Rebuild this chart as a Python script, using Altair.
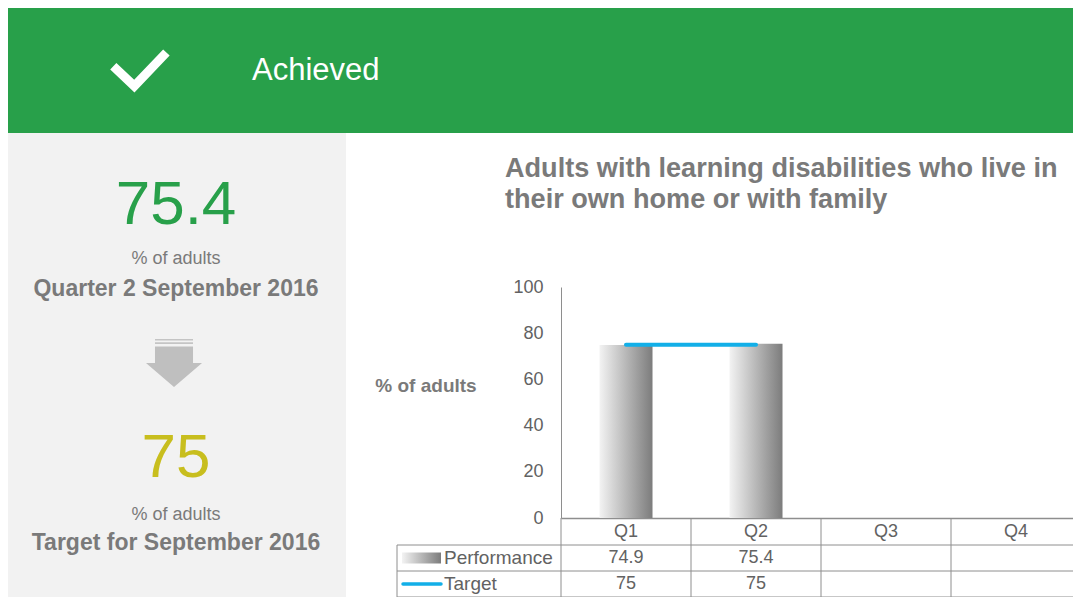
import altair as alt
import pandas as pd

# ---------------- data ----------------
quarters = ["Q1", "Q2", "Q3", "Q4"]
performance = [74.9, 75.4, None, None]
target = [75, 75, None, None]
y_ticks = [0, 20, 40, 60, 80, 100]

status_text = "Achieved"
headline_value = "75.4"
target_value = "75"
unit_label = "% of adults"
current_period = "Quarter 2 September 2016"
target_period = "Target for September 2016"
title_lines = ["Adults with learning disabilities who live in",
               "their own home or with family"]
row_labels = ["Performance", "Target"]

# ---------------- styles / layout ----------------
FONT = "Liberation Sans"
GREEN = "#28a04a"
YELLOW = "#c8be1e"
PANEL = "#f2f2f2"
GREY_TXT = "#7a7a7a"
AXIS_TXT = "#626262"
LINE_GREY = "#8e8e8e"
BLUE = "#12afe8"

OX, OY = 561, 287          # page position of plot-area origin
RIGHT, BOTTOM = 1073, 597  # page limits of the drawing
W = RIGHT - OX             # visible plot width
BAND_RANGE = 520           # 4 columns of 130 px
H = 231                    # plot height (0 at y=518)

ROW_LINES = [518, 545, 571, 597]   # table horizontal lines (page y)


def px(x):
    return x - OX


def py(y):
    return y - OY


def mid(a, b):
    return (a + b) / 2


bar_gradient = alt.Gradient(
    gradient="linear",
    stops=[alt.GradientStop(color="#f3f3f3", offset=0),
           alt.GradientStop(color="#7c7c7c", offset=1)],
    x1=0, x2=1, y1=0, y2=0,
)

xscale = alt.Scale(type="band", domain=quarters, paddingInner=0, paddingOuter=0,
                   range=[0, BAND_RANGE])
yscale = alt.Scale(domain=[0, 100], nice=False, zero=True)

x_axis = alt.Axis(title=None, ticks=False, domainColor=LINE_GREY, domainWidth=1.5,
                  labelFont=FONT, labelFontSize=18, labelColor=AXIS_TXT,
                  labelPadding=mid(ROW_LINES[0], ROW_LINES[1]) - ROW_LINES[0],
                  labelBaseline="middle", labelAngle=0, grid=False)
y_axis = alt.Axis(title=None, values=y_ticks, ticks=False, grid=False,
                  domainColor=LINE_GREY, domainWidth=1, labelFont=FONT,
                  labelFontSize=18, labelColor=AXIS_TXT, labelPadding=18)

X = alt.X("Quarter:N", scale=xscale, sort=quarters, axis=x_axis)

one = alt.Data(values=[{"k": 1}])

df = pd.DataFrame({"Quarter": quarters, "Performance": performance, "Target": target})
perf_df = df.dropna(subset=["Performance"])
targ_df = df.dropna(subset=["Target"])

layers = []

# banner and side panel
layers.append(alt.Chart(one).mark_rect(color=GREEN).encode(
    x=alt.value(px(8)), x2=alt.value(px(RIGHT)), y=alt.value(py(8)), y2=alt.value(py(133))))
layers.append(alt.Chart(one).mark_rect(color=PANEL).encode(
    x=alt.value(px(8)), x2=alt.value(px(346)), y=alt.value(py(133)), y2=alt.value(py(BOTTOM))))

# check mark
check_path = "M-0.89,-0.09L-0.19,0.57L0.88,-0.55"
layers.append(alt.Chart(one).mark_point(
    shape=check_path, filled=False, color="white", strokeWidth=9, size=3600,
    opacity=1, strokeJoin="miter", strokeCap="butt").encode(
    x=alt.value(px(140)), y=alt.value(py(69))))

layers.append(alt.Chart(one).mark_text(
    text=status_text, font=FONT, fontSize=31, color="white", align="left",
    baseline="alphabetic").encode(x=alt.value(px(252)), y=alt.value(py(80))))


# left panel texts
def ptext(txt, y, size, color, weight="normal"):
    return alt.Chart(one).mark_text(
        text=txt, font=FONT, fontSize=size, color=color, fontWeight=weight,
        align="center", baseline="alphabetic").encode(
        x=alt.value(px(176)), y=alt.value(py(y)))


layers.append(ptext(headline_value, 224, 62, GREEN))
layers.append(ptext(unit_label, 264, 18, GREY_TXT))
layers.append(ptext(current_period, 296, 23, GREY_TXT, "bold"))
layers.append(ptext(target_value, 477, 62, YELLOW))
layers.append(ptext(unit_label, 520, 18, GREY_TXT))
layers.append(ptext(target_period, 550, 23, GREY_TXT, "bold"))

# arrow
for (y0, y1) in [(339, 340.6), (342.3, 344)]:
    layers.append(alt.Chart(one).mark_rect(color="#c4c4c4").encode(
        x=alt.value(px(155)), x2=alt.value(px(193)), y=alt.value(py(y0)), y2=alt.value(py(y1))))
arrow_path = "M-0.679,-0.723L0.679,-0.723L0.679,-0.134L1,-0.134L0,0.723L-1,-0.134L-0.679,-0.134Z"
layers.append(alt.Chart(one).mark_point(
    shape=arrow_path, filled=True, color="#bfbfbf", size=3136, opacity=1, strokeWidth=0).encode(
    x=alt.value(px(174)), y=alt.value(py(366.75))))

# chart title
layers.append(alt.Chart(one).mark_text(
    text=title_lines, font=FONT, fontSize=27.1, fontWeight="bold", color=GREY_TXT,
    align="left", baseline="alphabetic", lineHeight=31).encode(
    x=alt.value(px(505)), y=alt.value(py(177))))

# y axis title
layers.append(alt.Chart(one).mark_text(
    text=unit_label, font=FONT, fontSize=19, fontWeight="bold", color=GREY_TXT,
    align="center", baseline="alphabetic").encode(
    x=alt.value(px(426)), y=alt.value(py(392))))

# bars with axes
bars = alt.Chart(perf_df).mark_bar(width=53, color=bar_gradient).encode(
    x=X,
    y=alt.Y("Performance:Q", scale=yscale, axis=y_axis),
)
layers.append(bars)

# target line
layers.append(alt.Chart(targ_df).mark_line(color=BLUE, strokeWidth=4, strokeCap="round").encode(
    x=X,
    y=alt.Y("Target:Q", scale=yscale, axis=y_axis),
))

# table grid
layers.append(alt.Chart(df).mark_rule(color=LINE_GREY, strokeWidth=1).encode(
    x=alt.X("Quarter:N", scale=xscale, sort=quarters, bandPosition=0, axis=x_axis),
    y=alt.value(py(ROW_LINES[0])), y2=alt.value(py(ROW_LINES[-1]))))
for yy in ROW_LINES[1:]:
    layers.append(alt.Chart(one).mark_rule(color=LINE_GREY, strokeWidth=1).encode(
        x=alt.value(px(397)), x2=alt.value(px(RIGHT)), y=alt.value(py(yy))))
layers.append(alt.Chart(one).mark_rule(color=LINE_GREY, strokeWidth=1).encode(
    x=alt.value(px(397)), y=alt.value(py(ROW_LINES[1])), y2=alt.value(py(ROW_LINES[-1]))))

row1_y = mid(ROW_LINES[1], ROW_LINES[2])
row2_y = mid(ROW_LINES[2], ROW_LINES[3])

# table values
layers.append(alt.Chart(perf_df).mark_text(
    font=FONT, fontSize=18, color=AXIS_TXT, baseline="middle").encode(
    x=X, y=alt.value(py(row1_y)), text=alt.Text("Performance:Q", format=".1f")))
layers.append(alt.Chart(targ_df).mark_text(
    font=FONT, fontSize=18, color=AXIS_TXT, baseline="middle").encode(
    x=X, y=alt.value(py(row2_y)), text=alt.Text("Target:Q", format="d")))

# row labels and swatches
layers.append(alt.Chart(one).mark_text(
    text=row_labels[0], font=FONT, fontSize=19, color=AXIS_TXT, align="left",
    baseline="middle").encode(x=alt.value(px(444)), y=alt.value(py(row1_y))))
layers.append(alt.Chart(one).mark_text(
    text=row_labels[1], font=FONT, fontSize=19, color=AXIS_TXT, align="left",
    baseline="middle").encode(x=alt.value(px(444)), y=alt.value(py(row2_y))))
layers.append(alt.Chart(one).mark_rect(color=bar_gradient).encode(
    x=alt.value(px(402)), x2=alt.value(px(441)), y=alt.value(py(row1_y - 5.5)),
    y2=alt.value(py(row1_y + 5.5))))
layers.append(alt.Chart(one).mark_rule(color=BLUE, strokeWidth=3.5, strokeCap="round").encode(
    x=alt.value(px(403)), x2=alt.value(px(441)), y=alt.value(py(row2_y))))

chart = alt.layer(*layers).properties(
    width=W, height=H,
    padding={"left": OX - 8, "top": OY - 8, "right": 0, "bottom": BOTTOM - (OY + H)},
    autosize=alt.AutoSizeParams(type="none"),
    background="white",
).configure_view(stroke=None)

chart.save("out.html", embed_options={"renderer": "svg", "actions": False})
